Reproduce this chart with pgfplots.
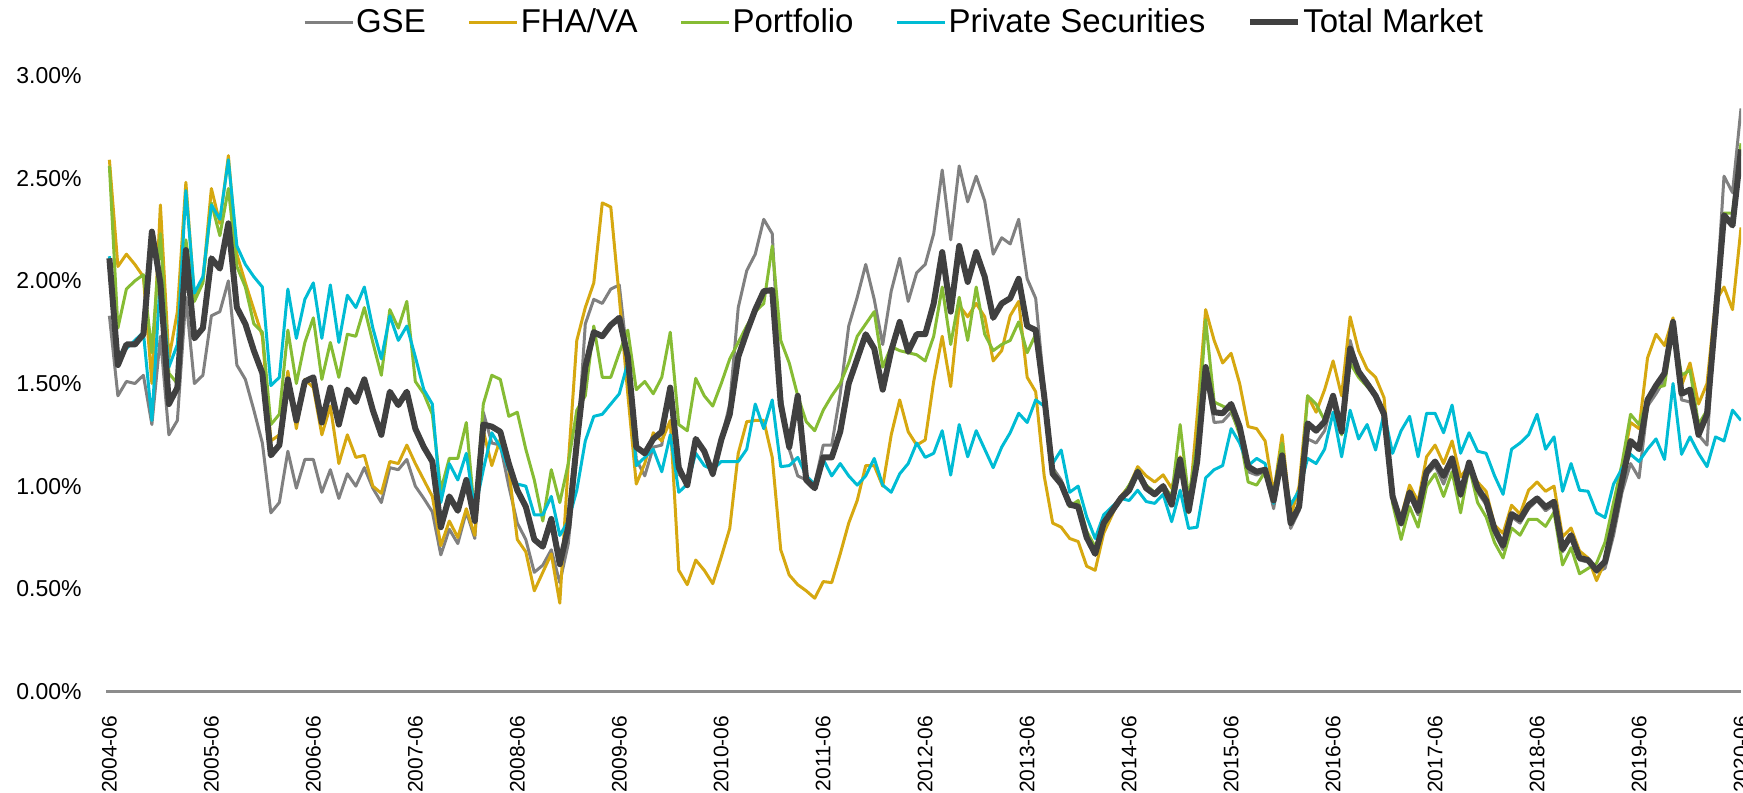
\documentclass[border=0pt]{standalone}
\usepackage{pgfplots}
\usepackage{pgfplotstable}
\pgfplotsset{compat=1.18}
\usepackage{fontspec}
\setmainfont{Liberation Sans}
\definecolor{cGSE}{RGB}{128,128,128}
\definecolor{cFHA}{RGB}{214,168,16}
\definecolor{cPort}{RGB}{134,188,52}
\definecolor{cPriv}{RGB}{0,188,212}
\definecolor{cTot}{RGB}{64,64,64}
\definecolor{cAxis}{RGB}{140,140,140}
\pgfplotstableread{
i G F P S T
0 1.83 2.59 2.56 2.12 2.11
1 1.44 2.07 1.77 1.64 1.59
2 1.51 2.13 1.96 1.67 1.69
3 1.50 2.08 2.00 1.71 1.69
4 1.54 2.02 2.03 1.75 1.74
5 1.30 1.50 1.65 1.32 2.24
6 1.73 2.37 2.23 2.02 1.99
7 1.25 1.62 1.55 1.58 1.40
8 1.32 1.85 1.50 1.69 1.48
9 1.92 2.48 2.20 2.44 2.15
10 1.50 1.92 1.90 1.94 1.72
11 1.54 2.00 1.99 2.02 1.77
12 1.83 2.45 2.38 2.37 2.11
13 1.85 2.28 2.22 2.30 2.06
14 2.00 2.61 2.45 2.59 2.28
15 1.59 2.13 2.07 2.17 1.87
16 1.52 1.99 1.97 2.08 1.79
17 1.37 1.86 1.79 2.02 1.66
18 1.21 1.73 1.75 1.97 1.55
19 0.87 1.22 1.30 1.49 1.15
20 0.92 1.25 1.35 1.53 1.20
21 1.17 1.56 1.76 1.96 1.52
22 0.99 1.28 1.50 1.72 1.32
23 1.13 1.52 1.70 1.91 1.51
24 1.13 1.48 1.82 1.99 1.53
25 0.97 1.25 1.52 1.72 1.31
26 1.08 1.39 1.70 1.98 1.48
27 0.94 1.11 1.53 1.70 1.30
28 1.06 1.25 1.74 1.93 1.47
29 1.00 1.14 1.73 1.87 1.41
30 1.09 1.15 1.87 1.97 1.52
31 0.99 1.00 1.70 1.77 1.37
32 0.92 0.965 1.54 1.62 1.25
33 1.09 1.12 1.86 1.83 1.46
34 1.08 1.11 1.77 1.71 1.395
35 1.13 1.20 1.90 1.78 1.46
36 1.00 1.11 1.51 1.63 1.28
37 0.94 1.03 1.45 1.47 1.19
38 0.875 0.95 1.35 1.40 1.12
39 0.665 0.71 0.98 0.92 0.80
40 0.79 0.83 1.135 1.11 0.95
41 0.72 0.75 1.135 1.03 0.88
42 0.875 0.89 1.31 1.16 1.03
43 0.745 0.76 0.85 0.88 0.83
44 1.36 1.27 1.40 1.08 1.30
45 1.21 1.10 1.54 1.26 1.29
46 1.20 1.23 1.52 1.19 1.265
47 1.00 1.08 1.34 1.08 1.11
48 0.82 0.74 1.36 1.01 0.98
49 0.74 0.68 1.18 1.00 0.90
50 0.58 0.49 1.03 0.86 0.74
51 0.615 0.58 0.83 0.86 0.705
52 0.69 0.67 1.08 0.95 0.84
53 0.53 0.43 0.92 0.76 0.62
54 0.72 1.11 1.11 0.83 0.80
55 1.15 1.71 1.37 0.98 1.21
56 1.79 1.87 1.44 1.22 1.58
57 1.91 1.99 1.78 1.34 1.75
58 1.89 2.38 1.53 1.35 1.73
59 1.96 2.36 1.53 1.40 1.785
60 1.98 1.92 1.65 1.45 1.82
61 1.61 1.45 1.76 1.60 1.63
62 1.13 1.01 1.47 1.10 1.19
63 1.05 1.11 1.51 1.14 1.16
64 1.19 1.26 1.45 1.18 1.23
65 1.20 1.22 1.53 1.07 1.265
66 1.48 1.32 1.75 1.25 1.48
67 1.06 0.59 1.30 0.97 1.09
68 1.01 0.52 1.27 1.01 1.005
69 1.225 0.64 1.525 1.16 1.23
70 1.16 0.59 1.44 1.10 1.17
71 1.05 0.525 1.39 1.08 1.06
72 1.225 0.655 1.50 1.12 1.225
73 1.40 0.794 1.62 1.12 1.35
74 1.87 1.16 1.70 1.12 1.63
75 2.05 1.314 1.78 1.18 1.75
76 2.13 1.32 1.85 1.40 1.86
77 2.30 1.32 1.89 1.28 1.95
78 2.23 1.14 2.17 1.42 1.955
79 1.45 0.69 1.71 1.095 1.40
80 1.18 0.567 1.60 1.10 1.19
81 1.05 0.52 1.44 1.14 1.44
82 1.03 0.49 1.314 1.05 1.03
83 1.01 0.454 1.27 1.01 0.99
84 1.20 0.535 1.37 1.13 1.14
85 1.20 0.53 1.44 1.05 1.14
86 1.45 0.67 1.50 1.11 1.265
87 1.78 0.82 1.60 1.05 1.50
88 1.92 0.93 1.73 1.005 1.62
89 2.08 1.10 1.79 1.05 1.74
90 1.91 1.10 1.85 1.135 1.67
91 1.69 1.00 1.58 1.005 1.47
92 1.95 1.25 1.68 0.97 1.66
93 2.11 1.42 1.66 1.06 1.80
94 1.90 1.265 1.65 1.11 1.655
95 2.04 1.20 1.64 1.21 1.74
96 2.08 1.225 1.61 1.14 1.74
97 2.23 1.51 1.73 1.16 1.89
98 2.54 1.73 1.97 1.27 2.14
99 2.20 1.485 1.69 1.054 1.85
100 2.56 1.88 1.92 1.30 2.17
101 2.385 1.825 1.71 1.143 1.995
102 2.51 1.89 1.97 1.27 2.14
103 2.39 1.825 1.74 1.18 2.02
104 2.13 1.61 1.66 1.09 1.82
105 2.21 1.66 1.69 1.19 1.89
106 2.18 1.83 1.71 1.26 1.915
107 2.30 1.90 1.80 1.355 2.01
108 2.01 1.53 1.65 1.31 1.78
109 1.915 1.46 1.74 1.42 1.76
110 1.48 1.05 1.40 1.39 1.44
111 1.09 0.82 1.08 1.11 1.06
112 1.03 0.80 1.00 1.176 1.01
113 0.92 0.745 0.90 0.97 0.91
114 0.91 0.73 0.93 1.00 0.90
115 0.77 0.61 0.78 0.85 0.75
116 0.68 0.59 0.705 0.745 0.67
117 0.82 0.77 0.80 0.86 0.82
118 0.88 0.86 0.88 0.90 0.88
119 0.94 0.95 0.94 0.94 0.94
120 1.00 1.00 1.005 0.93 0.98
121 1.07 1.095 1.08 0.98 1.07
122 1.00 1.05 1.005 0.925 0.99
123 0.965 1.02 0.97 0.916 0.96
124 1.005 1.055 1.005 0.96 1.00
125 0.92 0.99 0.95 0.827 0.91
126 1.12 1.143 1.30 0.98 1.13
127 0.89 0.87 0.94 0.794 0.88
128 1.13 1.34 1.21 0.80 1.12
129 1.55 1.86 1.81 1.04 1.58
130 1.31 1.71 1.41 1.08 1.36
131 1.314 1.60 1.39 1.10 1.355
132 1.36 1.647 1.37 1.28 1.40
133 1.265 1.50 1.25 1.21 1.29
134 1.07 1.29 1.02 1.10 1.095
135 1.054 1.28 1.005 1.135 1.07
136 1.07 1.22 1.07 1.11 1.08
137 0.89 0.965 0.965 0.916 0.93
138 1.135 1.25 1.21 1.11 1.15
139 0.794 0.85 0.835 0.908 0.82
140 0.88 1.00 0.916 0.98 0.90
141 1.23 1.44 1.44 1.135 1.306
142 1.21 1.36 1.40 1.11 1.27
143 1.27 1.47 1.32 1.18 1.314
144 1.42 1.61 1.43 1.36 1.44
145 1.265 1.44 1.25 1.143 1.265
146 1.71 1.825 1.60 1.37 1.67
147 1.558 1.66 1.53 1.23 1.558
148 1.51 1.57 1.485 1.30 1.50
149 1.45 1.53 1.44 1.176 1.44
150 1.35 1.43 1.33 1.355 1.35
151 0.95 0.93 0.916 1.16 0.95
152 0.81 0.85 0.74 1.27 0.82
153 0.956 1.005 0.90 1.34 0.97
154 0.86 0.925 0.80 1.143 0.88
155 1.054 1.143 1.00 1.355 1.07
156 1.10 1.20 1.06 1.355 1.12
157 1.01 1.11 0.95 1.26 1.05
158 1.12 1.22 1.07 1.395 1.135
159 0.95 1.045 0.87 1.16 0.96
160 1.10 1.10 1.095 1.26 1.115
161 0.97 1.02 0.92 1.17 0.99
162 0.91 0.975 0.85 1.16 0.93
163 0.77 0.81 0.725 1.05 0.79
164 0.69 0.77 0.65 0.96 0.71
165 0.85 0.907 0.796 1.18 0.864
166 0.82 0.864 0.761 1.21 0.838
167 0.89 0.98 0.838 1.25 0.907
168 0.93 1.02 0.838 1.35 0.94
169 0.88 0.975 0.804 1.18 0.898
170 0.91 1.00 0.873 1.24 0.924
171 0.68 0.753 0.616 0.975 0.693
172 0.75 0.796 0.70 1.11 0.761
173 0.64 0.684 0.573 0.98 0.65
174 0.63 0.65 0.599 0.975 0.64
175 0.58 0.54 0.624 0.87 0.59
176 0.60 0.633 0.727 0.847 0.633
177 0.76 0.84 0.92 1.01 0.82
178 0.97 1.095 1.11 1.086 1.026
179 1.11 1.31 1.35 1.155 1.22
180 1.04 1.28 1.30 1.12 1.18
181 1.39 1.625 1.42 1.18 1.42
182 1.45 1.74 1.48 1.23 1.49
183 1.52 1.685 1.49 1.13 1.55
184 1.80 1.82 1.78 1.50 1.80
185 1.42 1.49 1.54 1.155 1.45
186 1.41 1.60 1.565 1.24 1.47
187 1.25 1.40 1.30 1.16 1.25
188 1.20 1.50 1.37 1.095 1.35
189 1.86 1.90 1.83 1.24 1.83
190 2.51 1.97 2.33 1.22 2.32
191 2.43 1.86 2.33 1.37 2.27
192 2.84 2.26 2.67 1.32 2.64
}\data
\begin{document}
\begin{tikzpicture}
\path[use as bounding box] (0,0) rectangle (871.5pt,396pt);
\begin{axis}[
  at={(53pt,50.3pt)}, anchor=south west,
  scale only axis, width=817.5pt, height=307.9pt,
  xmin=-0.4, xmax=192, ymin=0, ymax=3,
  axis x line*=bottom, axis y line*=left,
  x axis line style={-, draw=cAxis, line width=1.3pt},
  y axis line style={draw=none},
  major tick length=0pt, tick style={draw=none},
  xtick={0,12,...,192},
  xticklabels={2004-06,2005-06,2006-06,2007-06,2008-06,2009-06,2010-06,2011-06,2012-06,2013-06,2014-06,2015-06,2016-06,2017-06,2018-06,2019-06,2020-06},
  xticklabel style={yshift=-12pt, rotate=90, anchor=east, inner sep=0pt, font=\fontsize{10.5}{12}\selectfont},
  ytick={0,0.5,...,3},
  yticklabel={\pgfmathprintnumber[fixed,fixed zerofill,precision=2]{\tick}\%},
  yticklabel style={xshift=-12pt, anchor=east, inner sep=0pt, font=\fontsize{11.5}{13}\selectfont},
  /pgf/number format/assume math mode=true,
  legend columns=5,
  legend style={at={(0.482,1.087)}, anchor=center, draw=none, fill=none,
    font=\fontsize{16.5}{18}\selectfont,
    /tikz/every even column/.append style={column sep=20pt},
    nodes={inner sep=1pt}},
  legend image code/.code={\draw[#1] (0pt,0pt) -- (24pt,0pt);},
  every axis plot/.append style={line join=round},
]
\addplot[cGSE, line width=1.5pt] table[x=i,y=G]{\data};
\addlegendentry{GSE}
\addplot[cFHA, line width=1.5pt] table[x=i,y=F]{\data};
\addlegendentry{FHA/VA}
\addplot[cPort, line width=1.5pt] table[x=i,y=P]{\data};
\addlegendentry{Portfolio}
\addplot[cPriv, line width=1.5pt] table[x=i,y=S]{\data};
\addlegendentry{Private Securities}
\addplot[cTot, line width=3pt] table[x=i,y=T]{\data};
\addlegendentry{Total Market}
\end{axis}
\end{tikzpicture}
\end{document}
